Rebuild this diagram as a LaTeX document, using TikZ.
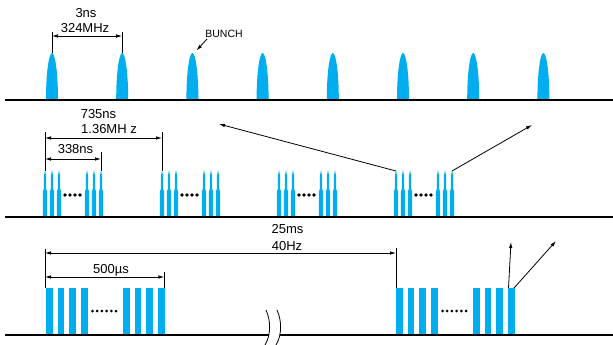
\documentclass[tikz,border=0pt]{standalone}
\usepackage{fontspec}
\setmainfont{Liberation Sans}
\usetikzlibrary{arrows.meta}
\definecolor{bunchc}{RGB}{0,174,239}
\begin{document}
\begin{tikzpicture}[x=1pt,y=-1pt,
  base/.style={line width=2pt,black},
  dim/.style={line width=0.8pt,{Latex[length=6pt,width=3.5pt]}-{Latex[length=6pt,width=3.5pt]}},
  tickl/.style={line width=0.8pt},
  ptr/.style={line width=0.8pt,-{Latex[length=6pt,width=3.5pt]}},
  lbl/.style={inner sep=0pt,anchor=base,font=\fontsize{13}{15}\selectfont},
  pulse/.style={fill=bunchc,draw=none},
  dotc/.style={fill=black,draw=none}]
\useasboundingbox (0,0) rectangle (613,345);

% ---------- Row 1: bunches ----------
\foreach \i in {0,...,7}{
  \pgfmathsetmacro\bx{52+70.2*\i}
  \fill[pulse] (\bx-6,100) .. controls (\bx-6,72) and (\bx-3,53) .. (\bx,53)
     .. controls (\bx+3,53) and (\bx+6,72) .. (\bx+6,100) -- cycle;
}
\coordinate (r1s) at (5,100);
\coordinate (r1e) at (613,100);
\draw[base] (r1s) -- (r1e);
\coordinate (t1a) at (52,32);   \coordinate (t1b) at (52,53);
\coordinate (t2a) at (122.2,32); \coordinate (t2b) at (122.2,53);
\draw[tickl] (t1a) -- (t1b);
\draw[tickl] (t2a) -- (t2b);
\coordinate (d1l) at (52,36); \coordinate (d1r) at (122.2,36);
\draw[dim] (d1l) -- (d1r);
\node[lbl] (l3ns) at (86,18) {3ns};
\node[lbl] (l324) at (85,33) {324MHz};
\node[lbl,font=\fontsize{10.5}{12}\selectfont] (lbunch) at (224,38) {BUNCH};
\coordinate (bs) at (207,39);
\coordinate (bt) at (196.5,50.5);
\draw[ptr] (bs) -- (bt);

% ---------- Row 2: bunch trains ----------
\foreach \g in {0,...,3}{
  \pgfmathsetmacro\gx{45+117*\g}
  \foreach \o in {0,7,14,42,49,56}{
    \pgfmathsetmacro\sx{\gx+\o}
    \fill[pulse] (\sx-2.2,217) -- (\sx-2.2,192) -- (\sx-1.2,189) -- (\sx-1.1,176) -- (\sx,170)
       -- (\sx+1.1,176) -- (\sx+1.2,189) -- (\sx+2.2,192) -- (\sx+2.2,217) -- cycle;
  }
  \foreach \d in {20,25,30,35}{
    \fill[dotc] (\gx+\d,195) circle (1.8);
  }
}
\coordinate (r2s) at (5,217);
\coordinate (r2e) at (613,217);
\draw[base] (r2s) -- (r2e);
\coordinate (u1a) at (45,132);  \coordinate (u1b) at (45,171);
\coordinate (u2a) at (162,132); \coordinate (u2b) at (162,171);
\coordinate (u3a) at (101,152); \coordinate (u3b) at (101,171);
\draw[tickl] (u1a) -- (u1b);
\draw[tickl] (u2a) -- (u2b);
\draw[tickl] (u3a) -- (u3b);
\coordinate (d2l) at (45,138); \coordinate (d2r) at (162,138);
\draw[dim] (d2l) -- (d2r);
\coordinate (d3l) at (45,159); \coordinate (d3r) at (101,159);
\draw[dim] (d3l) -- (d3r);
\node[lbl] (l735) at (98.5,118) {735ns};
\node[lbl] (l136) at (109,133) {1.36MH z};
\node[lbl] (l338) at (75.5,153) {338ns};
\coordinate (p1s) at (396,171); \coordinate (p1e) at (219,124);
\coordinate (p2s) at (452,171); \coordinate (p2e) at (532,125);
\draw[ptr] (p1s) -- (p1e);
\draw[ptr] (p2s) -- (p2e);

% ---------- Row 3: macro pulses ----------
\foreach \g in {0,350}{
  \foreach \o in {46,57.7,69.4,81.1,123,134.7,146.4,158.1}{
    \fill[pulse] (\g+\o,288) rectangle (\g+\o+6.5,335);
  }
  \foreach \d in {0,...,5}{
    \fill[dotc] (\g+92.5+4.7*\d,311) circle (1.5);
  }
}
\coordinate (r3s) at (5,335);  \coordinate (r3m) at (268.5,335);
\coordinate (r3n) at (279.5,335); \coordinate (r3e) at (613,335);
\draw[base] (r3s) -- (r3m);
\draw[base] (r3n) -- (r3e);
\coordinate (k1a) at (266,310); \coordinate (k1b) at (265,345);
\coordinate (k2a) at (277,310); \coordinate (k2b) at (276,345);
\draw[line width=0.8pt] (k1a) .. controls (271,321) and (271,335) .. (k1b);
\draw[line width=0.8pt] (k2a) .. controls (282,321) and (282,335) .. (k2b);

\coordinate (v1a) at (45,249);  \coordinate (v1b) at (45,288);
\coordinate (v2a) at (396,248); \coordinate (v2b) at (396,288);
\coordinate (v3a) at (164.3,272); \coordinate (v3b) at (164.3,288);
\draw[tickl] (v1a) -- (v1b);
\draw[tickl] (v2a) -- (v2b);
\draw[tickl] (v3a) -- (v3b);
\coordinate (d4l) at (45,253); \coordinate (d4r) at (396,253);
\draw[dim] (d4l) -- (d4r);
\coordinate (d5l) at (45,277); \coordinate (d5r) at (164.3,277);
\draw[dim] (d5l) -- (d5r);
\node[lbl] (l25) at (287.5,233) {25ms};
\node[lbl] (l40) at (287,250) {40Hz};
\node[lbl] (l500) at (111,273) {500µs};
\coordinate (q1s) at (508.5,288); \coordinate (q1e) at (511,242);
\coordinate (q2s) at (514,288); \coordinate (q2e) at (556,241);
\draw[ptr] (q1s) -- (q1e);
\draw[ptr] (q2s) -- (q2e);
\end{tikzpicture}
\end{document}
